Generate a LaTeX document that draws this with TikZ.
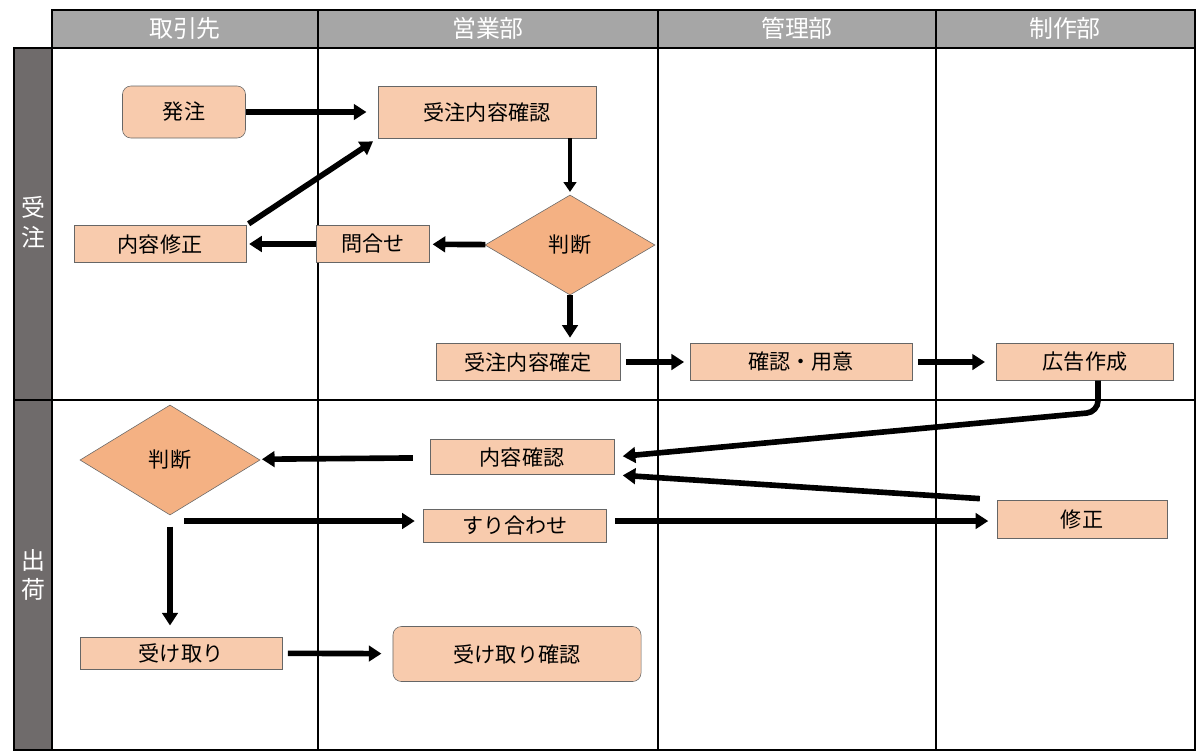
\documentclass[tikz,border=0pt]{standalone}
\usepackage{fontspec}
\setmainfont{Noto Sans CJK JP}
\usetikzlibrary{arrows.meta,shapes.geometric}
\definecolor{Box}{HTML}{F8CBAD}
\definecolor{Dia}{HTML}{F4B183}
\definecolor{Head}{HTML}{A6A6A6}
\definecolor{Side}{HTML}{6F6B6B}
\begin{document}
\begin{tikzpicture}[x={(0.025cm,0)}, y={(0,-0.025cm)},
  every node/.style={font=\fontsize{15}{18}\selectfont},
  lane/.style={white, font=\fontsize{17}{21}\selectfont},
  task/.style={draw=black!60, fill=Box, minimum height=0.92cm, inner sep=0pt},
  rtask/.style={task, rounded corners=6pt},
  judge/.style={diamond, draw=black!60, fill=Dia, aspect=1.7, inner sep=0pt},
  flow/.style={-{Triangle[length=9pt,width=11pt]}, line width=4pt},
  thin/.style={-{Triangle[length=7pt,width=9pt]}, line width=2.5pt}]

 \useasboundingbox (0,0) rectangle (1200,752);

 %%%%%%%%%% Lanes %%%%%%%%%%
 \fill[Head] (52,10) rectangle (1195,47);
 \fill[Side] (14,48) rectangle (52,750);
 \draw[line width=1pt] (52,10) rectangle (1195,750);
 \draw[line width=1pt] (14,48) rectangle (52,750);
 \draw[line width=1pt] (52,48) -- (1195,48);
 \draw[line width=1pt] (14,400) -- (1195,400);
 \foreach \x in {318,658,936} \draw[line width=1pt] (\x,10) -- (\x,750);
 \node[lane] (h1) at (185,28) {取引先};
 \node[lane] (h2) at (488,28) {営業部};
 \node[lane] (h3) at (797,28) {管理部};
 \node[lane] (h4) at (1065,28) {制作部};
 \node[lane, align=center] (s1) at (33,222) {受\\注};
 \node[lane, align=center] (s2) at (33,575) {出\\荷};

 %%%%%%%%%% Order %%%%%%%%%%
 \node[rtask, minimum width=3.075cm, minimum height=1.3cm] (order) at (184,112) {発注};
 \node[task, minimum width=5.45cm, minimum height=1.3cm] (check) at (487,112) {受注内容確認};
 \node[judge, minimum width=4.25cm, minimum height=2.5cm] (judgeA) at (570,245) {判断};
 \node[task, minimum width=2.825cm] (ask) at (373,244) {問合せ};
 \node[task, minimum width=4.3cm] (fix) at (160,244) {内容修正};
 \node[task, minimum width=4.6cm] (fixed) at (528,362) {受注内容確定};
 \node[task, minimum width=5.55cm] (prep) at (801,362) {確認・用意};
 \node[task, minimum width=4.425cm] (ad) at (1085,362) {広告作成};

 %%%%%%%%%% Shipping %%%%%%%%%%
 \node[judge, minimum width=4.5cm, minimum height=2.75cm] (judgeB) at (170,460) {判断};
 \node[task, minimum width=4.6cm, minimum height=0.875cm] (review) at (522,457) {内容確認};
 \node[task, minimum width=4.575cm, minimum height=0.825cm] (adjust) at (515,526) {すり合わせ};
 \node[task, minimum width=4.25cm, minimum height=0.95cm] (redo) at (1082,519) {修正};
 \node[task, minimum width=5.05cm, minimum height=0.8cm] (receive) at (181,653) {受け取り};
 \node[rtask, minimum width=6.2cm, minimum height=1.375cm] (done) at (517,654) {受け取り確認};
 \coordinate (split) at (184,521);
 \coordinate (adbend) at (1098,412);

 %%%%%%%%%% Arrows %%%%%%%%%%
 \draw[flow, shorten >=8pt] (order) -- (check);
 \draw[flow, shorten <=2pt, shorten >=4pt] (fix.north east) -- (check.south west);
 \draw[thin, shorten >=2pt] (check.south -| judgeA) -- (judgeA.north);
 \draw[flow, shorten >=2pt] (judgeA) -- (ask);
 \draw[flow, shorten >=2pt] (ask) -- (fix);
 \draw[flow, shorten >=4pt] (judgeA.south) -- (fixed.north -| judgeA);
 \draw[flow, shorten <=4pt, shorten >=4pt] (fixed) -- (prep);
 \draw[flow, shorten <=4pt, shorten >=8pt] (prep) -- (ad);
 \draw[flow, rounded corners=8pt, shorten >=6pt] (ad.south -| adbend) -- (adbend) -- (review.east);
 \draw[flow, shorten <=12pt, shorten >=6pt] (redo.north west) -- (review.south east);
 \draw[flow, shorten <=12pt, shorten >=2pt] (review) -- (judgeB);
 \draw[flow, shorten >=6pt] (split) -- (adjust.west |- split);
 \draw[flow, shorten <=6pt, shorten >=6pt] (adjust.east |- split) -- (redo.west |- split);
 \draw[flow, shorten <=8pt, shorten >=8pt] (judgeB.south) -- (receive.north -| judgeB);
 \draw[flow, shorten <=4pt, shorten >=8pt] (receive) -- (done);

\end{tikzpicture}
\end{document}
